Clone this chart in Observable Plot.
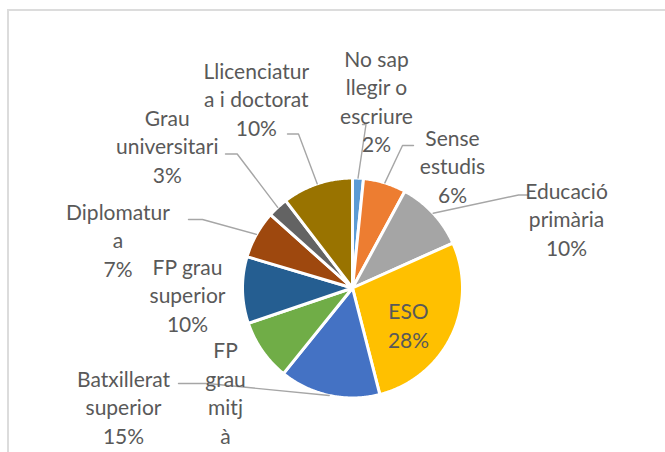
<!DOCTYPE html>
<html><head><meta charset="utf-8">
<script src="https://cdn.jsdelivr.net/npm/d3@7"></script>
<script src="https://cdn.jsdelivr.net/npm/@observablehq/plot@0.6"></script>
<style>
html,body{margin:0;padding:0;background:#fff;overflow:hidden;}
#wrap{position:relative;width:665px;height:452px;}
#frame{position:absolute;left:7px;top:9px;width:720px;height:520px;border:2px solid #dcdcdc;pointer-events:none;box-sizing:border-box;}
</style></head><body>
<div id="wrap"><div id="chart"></div><div id="frame"></div></div>
<script>
// ---- data ----
const categories = ["No sap llegir o escriure","Sense estudis","Educació primària","ESO","Batxillerat superior","FP grau mitjà","FP grau superior","Diplomatura","Grau universitari","Llicenciatura i doctorat"];
const values = [1.6, 6.3, 10.4, 27.7, 14.8, 9.0, 9.8, 7.0, 3.0, 10.4];
const colors = ["#5B9BD5","#ED7D31","#A5A5A5","#FFC000","#4472C4","#70AD47","#255E91","#9E480E","#636363","#997300"];
// label text as wrapped in the chart (FP grau mitjà's percentage falls below the picture)
const labelLines = [
  ["No sap","llegir o","escriure"],
  ["Sense","estudis"],
  ["Educació","primària"],
  ["ESO"],
  ["Batxillerat","superior"],
  ["FP","grau","mitj","à"],
  ["FP grau","superior"],
  ["Diplomatur","a"],
  ["Grau","universitari"],
  ["Llicenciatur","a i doctorat"]
];
const showPct = [true,true,true,true,true,false,true,true,true,true];

// ---- layout (pixels) ----
const cx = 352, cy = 287.5, R = 110;
// label anchor: x center, y = baseline of last line; leader: stub start/end (null = no leader)
const labelPos = [
  {x:376, y:151.5, stub:[[362,124],[365.5,124]]},
  {x:452, y:202,   stub:[[413,145],[402,145]]},
  {x:566, y:255,   stub:[[528,194.5],[518,194.5]]},
  {x:408, y:347,   stub:null},
  {x:123, y:443,   stub:[[178,383],[207,383]]},
  {x:225, y:443,   stub:null},
  {x:187, y:331,   stub:null},
  {x:117.5, y:276, stub:[[188,219],[202,219]]},
  {x:166.7, y:182, stub:[[225,153.5],[236.7,153.5]]},
  {x:255.8, y:135, stub:[[287,133.5],[298,133.5]]}
];

const arcs = d3.pie().sort(null).value(d => d)(values);
const pt = (a, r) => [cx + r * Math.sin(a), cy - r * Math.cos(a)];

const slicePts = [];
arcs.forEach((a, i) => {
  const n = Math.max(2, Math.ceil((a.endAngle - a.startAngle) / 0.01));
  slicePts.push({cat: categories[i], x: cx, y: cy});
  for (let k = 0; k <= n; ++k) {
    const ang = a.startAngle + (a.endAngle - a.startAngle) * k / n;
    const [x, y] = pt(ang, R);
    slicePts.push({cat: categories[i], x, y});
  }
  slicePts.push({cat: categories[i], x: cx, y: cy});
});

const leaderPts = [];
arcs.forEach((a, i) => {
  const s = labelPos[i].stub;
  if (!s) return;
  const [ex, ey] = pt((a.startAngle + a.endAngle) / 2, R);
  leaderPts.push({i, x: s[0][0], y: s[0][1]}, {i, x: s[1][0], y: s[1][1]}, {i, x: ex, y: ey});
});

const labels = categories.map((c, i) => ({
  x: labelPos[i].x, y: labelPos[i].y,
  text: labelLines[i].concat(showPct[i] ? [Math.round(values[i]) + "%"] : []).join("\n")
}));

const chart = Plot.plot({
  width: 665, height: 452, margin: 0,
  x: {domain: [0, 665], range: [0, 665], axis: null},
  y: {domain: [0, 452], range: [0, 452], axis: null},
  color: {domain: categories, range: colors},
  style: {background: "transparent"},
  marks: [
    Plot.line(slicePts, {x: "x", y: "y", z: "cat", fill: "cat", stroke: "white", strokeWidth: 3, strokeLinejoin: "round"}),
    Plot.line(leaderPts, {x: "x", y: "y", z: "i", stroke: "#a6a6a6", strokeWidth: 1.4}),
    Plot.text(labels, {x: "x", y: "y", text: "text", textAnchor: "middle", lineAnchor: "bottom",
      fontSize: 21, fontFamily: "Lato", fill: "#595959", lineHeight: 28.5 / 21})
  ]
});
document.getElementById("chart").appendChild(chart);
</script>
</body></html>
